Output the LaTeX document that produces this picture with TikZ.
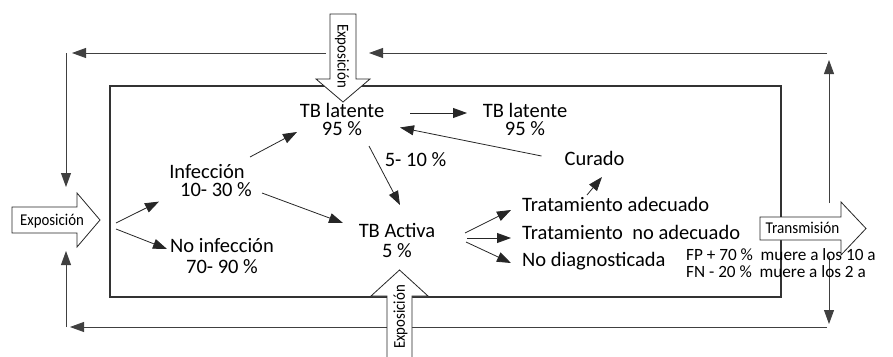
\documentclass[tikz,border=0pt]{standalone}
\usepackage{fontspec}
\setmainfont{Carlito}
\usetikzlibrary{arrows.meta}

\tikzset{
  lbl/.style={inner sep=0pt,align=center,font=\fontsize{20.5}{18}\selectfont},
  notetxt/.style={inner sep=0pt,font=\fontsize{17.2}{17}\selectfont},
  tagtxt/.style={inner sep=0pt,font=\fontsize{16.5}{16.5}\selectfont},
  arr/.style={-{Triangle[length=14pt,width=10pt]},line width=0.8pt,draw=black!85},
  outer/.style={arr,draw=black!75},
  blk/.style={draw=black!85,fill=white,line width=0.8pt,line join=miter},
  frame/.style={draw=black!80,line width=1.1pt}
}

\begin{document}
\begin{tikzpicture}[x=1pt,y=-1pt]
\clip (0,0) rectangle (893,356);

% corners of the outer loop
\coordinate (tl) at (66,53);
\coordinate (tr) at (827,53);
\coordinate (bl) at (66,327);
\coordinate (br) at (827,327);
\coordinate (topin) at (369,53);
\coordinate (topout) at (326,53);
\coordinate (rup) at (829,203);
\coordinate (rdn) at (829,256);

% outer loop
\draw[outer] (tr) -- (topin);
\draw[outer] (topout) -- ([shift={(6,0)}]tl);
\draw[outer] (tl) -- ([shift={(0,134)}]tl);
\draw[outer] (br) -- ([shift={(4,0)}]bl);
\draw[outer] (bl) -- ([shift={(0,-76)}]bl);
\draw[outer] (rup) -- ([shift={(2,7)}]tr);
\draw[outer] (rdn) -- ([shift={(2,-3)}]br);

% inner box
\draw[frame] (110,86) rectangle (781,297);

% block arrows
\draw[blk] (12,207) -- (77,207) -- (77,193) -- (100,220) -- (77,247) -- (77,233) -- (12,233) -- cycle;
\coordinate (expLtip) at (100,220);
\node[tagtxt,anchor=base] (expL) at (52,225.3) {\scalebox{0.9}[1]{Exposición}};

\draw[blk] (330,14) -- (356,14) -- (356,79) -- (370,79) -- (343,102) -- (316,79) -- (330,79) -- cycle;
\node[tagtxt,anchor=base,rotate=-90] (expT) at (337.7,56) {\scalebox{0.9}[1]{Exposición}};

\draw[blk] (387,362) -- (387,296) -- (371,296) -- (399.5,270) -- (428,296) -- (412,296) -- (412,362) -- cycle;
\node[tagtxt,anchor=base,rotate=90] (expB) at (404.8,317) {\scalebox{0.9}[1]{Exposición}};

\draw[blk] (760,217) -- (841,217) -- (841,202) -- (866,228.5) -- (841,255) -- (841,240) -- (760,240) -- cycle;
\node[tagtxt,anchor=base] (trans) at (802.5,233.3) {\scalebox{0.92}[1]{Transmisión}};

% states
\node[lbl] (lat) at (342,119) {TB latente\\95 \%};
\node[lbl] (lat2) at (525,119) {TB latente\\95 \%};
\node[lbl,anchor=base] (cur) at (594.5,165) {Curado};
\node[lbl] (inf) at (207,180.6) {Infección\\\hspace*{18pt}10- 30 \%};
\node[lbl,font=\fontsize{20.5}{21}\selectfont] (noinf) at (222,256.4) {No infección\\70- 90 \%};
\node[lbl,font=\fontsize{20.5}{20}\selectfont] (act) at (397,240.9) {TB Activa\\5 \%};
\node[lbl,anchor=base] (pct) at (415.5,166.6) {5- 10 \%};
\node[lbl,anchor=base west] (trA) at (522,211) {Tratamiento adecuado};
\node[lbl,anchor=base west] (trB) at (522,239) {Tratamiento~ no adecuado};
\node[lbl,anchor=base west] (nodx) at (522,266.7) {No diagnosticada};
\node[notetxt,anchor=base west] (fp) at (686,260) {FP + 70 \%~ muere a los 10 a};
\node[notetxt,anchor=base west] (fn) at (686,277.3) {FN - 20 \%~ muere a los 2 a};

% arrows
\draw[arr] ([shift={(16,3)}]expLtip) -- ([shift={(-48,21)}]inf.center);
\draw[arr] ([shift={(16,9)}]expLtip) -- ([shift={(-55,-7.4)}]noinf.center);
\draw[arr] ([shift={(43,-23.6)}]inf.center) -- ([shift={(-45,13)}]lat.center);
\draw[arr] ([shift={(55,12.4)}]inf.center) -- ([shift={(-54,-17.9)}]act.center);
\draw[arr] ([shift={(27,27)}]lat.center) -- ([shift={(3,-35.9)}]act.center);
\draw[arr] ([shift={(68,-6)}]lat.center) -- ([shift={(-58,-6)}]lat2.center);
\draw[arr] ([shift={(-53,-9)}]cur.base) -- ([shift={(58,8.5)}]lat.center);
\draw[arr] ([shift={(65,-16)}]trA.base west) -- ([shift={(7.5,12)}]cur.base);
\draw[arr] ([shift={(68,-7.9)}]act.center) -- ([shift={(-11,-1)}]trA.base west);
\draw[arr] ([shift={(70,-2.9)}]act.center) -- ([shift={(-11,-1)}]trB.base west);
\draw[arr] ([shift={(69,1.1)}]act.center) -- ([shift={(-11,-3.7)}]nodx.base west);
\end{tikzpicture}
\end{document}
